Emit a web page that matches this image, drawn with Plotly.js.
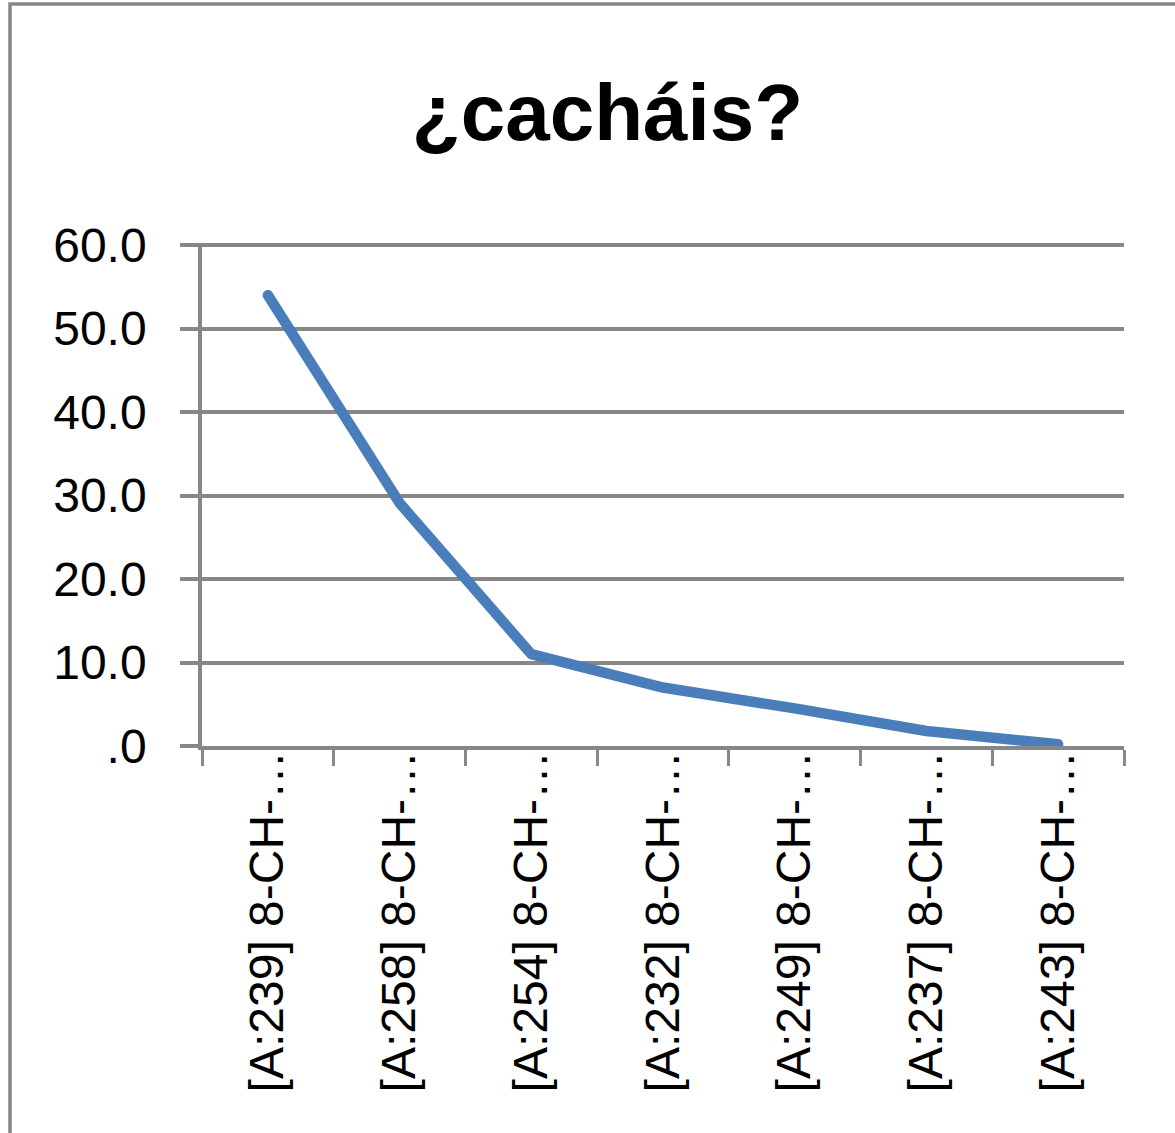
<!DOCTYPE html>
<html>
<head>
<meta charset="utf-8">
<script src="https://cdn.plot.ly/plotly-3.0.1.min.js"></script>
<style>html,body{margin:0;padding:0;background:#fff;}#chart{width:1175px;height:1133px;}
.scatterlayer path.js-line{stroke-linecap:round;stroke-linejoin:round;}</style>
</head>
<body>
<div id="chart"></div>
<script>
var categories = ["[A:239] 8-CH-…", "[A:258] 8-CH-…", "[A:254] 8-CH-…", "[A:232] 8-CH-…", "[A:249] 8-CH-…", "[A:237] 8-CH-…", "[A:243] 8-CH-…"];
var values = [54.0, 29.1, 11.0, 7.0, 4.5, 1.8, 0.2];
var yTickVals = [0, 10, 20, 30, 40, 50, 60];
var yTickText = [".0", "10.0", "20.0", "30.0", "40.0", "50.0", "60.0"];
var chartTitle = "¿cacháis?";

var grid = "#878787";
var trace = {
  x: categories,
  y: values,
  type: "scatter",
  mode: "lines",
  line: {color: "#4A7EBB", width: 10.5},
  hoverinfo: "x+y"
};
var layout = {
  width: 1175,
  height: 1133,
  margin: {l: 202, r: 51, t: 243, b: 387},
  paper_bgcolor: "#fff",
  plot_bgcolor: "#fff",
  showlegend: false,
  font: {family: "Liberation Sans, Arial, sans-serif", color: "#000"},
  title: {
    text: "<b>" + chartTitle + "</b>",
    font: {size: 80, family: "Liberation Sans, Arial, sans-serif", color: "#000"},
    xref: "container", x: 0.517, xanchor: "center",
    yref: "container", y: 1 - 112/1133, yanchor: "middle"
  },
  xaxis: {
    type: "category",
    tickangle: -90,
    tickson: "boundaries",
    ticks: "outside",
    ticklen: 16,
    tickwidth: 3,
    tickcolor: grid,
    showline: true,
    linecolor: grid,
    linewidth: 3.5,
    showgrid: false,
    zeroline: false,
    tickfont: {size: 48, color: "#000"},
    ticklabelstandoff: -18,
    range: [-0.5, 6.5]
  },
  yaxis: {
    range: [0, 60.25],
    tickvals: yTickVals,
    ticktext: yTickText,
    ticks: "outside",
    ticklen: 18,
    tickwidth: 3.5,
    tickcolor: grid,
    showline: true,
    linecolor: grid,
    linewidth: 3.5,
    showgrid: true,
    gridcolor: grid,
    gridwidth: 3.5,
    zeroline: false,
    tickfont: {size: 48, color: "#000"},
    ticklabelstandoff: 24
  },
  shapes: [{
    type: "rect", xref: "paper", yref: "paper",
    x0: (10 - 202) / 922, x1: 1.3,
    y0: -1.5, y1: (746 - 4) / 503,
    line: {color: grid, width: 3.5},
    fillcolor: "rgba(0,0,0,0)",
    layer: "below"
  }]
};
Plotly.newPlot("chart", [trace], layout, {displayModeBar: false, responsive: false});
</script>
</body>
</html>
